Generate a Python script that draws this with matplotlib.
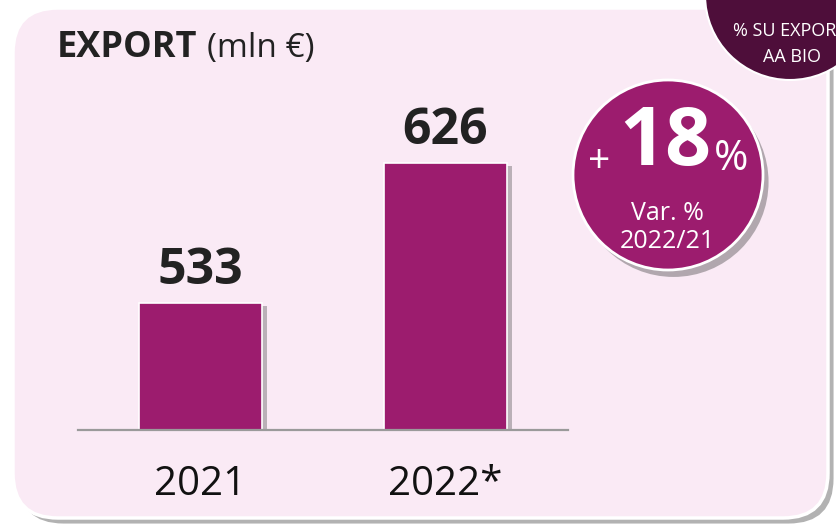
import matplotlib
matplotlib.use("Agg")
import matplotlib.pyplot as plt
import matplotlib.patheffects as pe
from matplotlib.patches import FancyBboxPatch, Circle

plt.rcParams["font.family"] = ["Open Sans", "DejaVu Sans"]

# data
years = ["2021", "2022*"]
export_mln = [533, 626]
var_pct = "18"
var_label = ["Var. %", "2022/21"]
corner_label = ["% SU EXPORT", "AA BIO"]

BAR = "#9C1C6E"
DARK = "#4E0E3A"
PANEL = "#FAEAF5"
W, H = 836, 526

fig = plt.figure(figsize=(W / 100, H / 100), dpi=100)
fig.patch.set_facecolor("white")

# background layer in pixel coords
bg = fig.add_axes([0, 0, 1, 1], zorder=0)
bg.set_xlim(0, W); bg.set_ylim(H, 0); bg.axis("off")
shadow = [pe.SimplePatchShadow(offset=(4, -4), shadow_rgbFace="#555555", alpha=0.45), pe.Normal()]
panel = FancyBboxPatch((13, 8), 815, 510, boxstyle="round,pad=0,rounding_size=45",
                       fc=PANEL, ec="white", lw=2.5, path_effects=shadow)
bg.add_patch(panel)

# bar chart
ax = fig.add_axes([78 / W, 96 / H, 490 / W, 410 / H], zorder=1)
ax.patch.set_alpha(0)
x = range(len(years))
bshadow = [pe.SimplePatchShadow(offset=(4, -2), shadow_rgbFace="#444444", alpha=0.35), pe.Normal()]
bars = ax.bar(x, export_mln, width=0.5, color=BAR, edgecolor="white", lw=1.2,
              path_effects=bshadow)
for i, v in enumerate(export_mln):
    ax.annotate(f"{v}", (i, v), xytext=(0, 5), textcoords="offset points",
                ha="center", va="bottom", fontsize=36, fontweight="bold", color="#222222")
ax.set_xlim(-0.5, 1.5)
ax.set_ylim(449, 721)
ax.set_yticks([])
ax.set_xticks(list(x), years, fontsize=29, color="#111111")
ax.tick_params(axis="x", length=0, pad=25)
for s in ["top", "left", "right"]:
    ax.spines[s].set_visible(False)
ax.spines["bottom"].set_color("#9A9A9A")
ax.spines["bottom"].set_linewidth(1.6)

# overlay layer
ov = fig.add_axes([0, 0, 1, 1], zorder=2)
ov.patch.set_alpha(0)
ov.set_xlim(0, W); ov.set_ylim(H, 0); ov.axis("off")

ov.text(57, 48, "EXPORT", fontsize=26, fontweight="bold", color="#222222", va="center")
ov.text(207, 48, "(mln €)", fontsize=24, color="#222222", va="center")

# corner circle
ov.add_patch(Circle((790, -5), 85, fc=DARK, ec="white", lw=1.5))
ov.text(790, 31, corner_label[0], fontsize=13, color="white", ha="center", va="center", clip_on=True)
ov.text(792, 57, corner_label[1], fontsize=13, color="white", ha="center", va="center")

# variation badge
cshadow = [pe.SimplePatchShadow(offset=(4, -5), shadow_rgbFace="#444444", alpha=0.4), pe.Normal()]
ov.add_patch(Circle((668, 175), 95, fc=BAR, ec="white", lw=2, path_effects=cshadow))
ov.text(599, 162, "+", fontsize=28, color="white", ha="center", va="center")
ov.text(665, 144, var_pct, fontsize=58, fontweight="bold", color="white", ha="center", va="center")
ov.text(731, 159, "%", fontsize=30, color="white", ha="center", va="center")
ov.text(667, 213, var_label[0], fontsize=18, color="white", ha="center", va="center")
ov.text(667, 242, var_label[1], fontsize=18, color="white", ha="center", va="center")

fig.savefig("out.png", dpi=100)
